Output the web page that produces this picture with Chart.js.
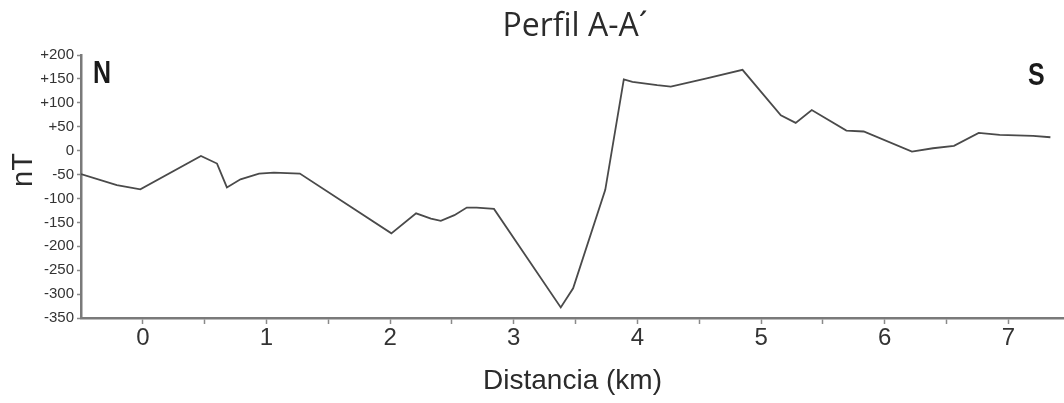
<!DOCTYPE html>
<html>
<head>
<meta charset="utf-8">
<title>Perfil A-A´</title>
<script src="https://cdn.jsdelivr.net/npm/chart.js@4"></script>
<style>
    body { margin: 0; background: #ffffff; }
    #wrap { width: 1064px; height: 403px; }
</style>
</head>
<body>
<div id="wrap"><canvas id="profileChart" width="1064" height="403"></canvas></div>
<script>
// Profile data
const distanceKm = [-0.5, -0.21, -0.02, 0.47, 0.60, 0.68, 0.79, 0.94, 1.06, 1.27, 2.01, 2.21, 2.33, 2.41, 2.52, 2.62, 2.70, 2.84, 3.38, 3.48, 3.74, 3.89, 3.96, 4.16, 4.27, 4.56, 4.85, 5.16, 5.28, 5.41, 5.69, 5.83, 6.22, 6.39, 6.56, 6.76, 6.93, 7.20, 7.34];
const anomalyNT = [-49, -72, -81, -11, -27, -77, -60, -48, -46, -48, -173, -131, -142, -147, -135, -119, -119, -122, -328, -288, -82, 149, 144, 137, 134, 151, 169, 74, 58, 85, 42, 40, -2, 5, 10, 37, 33, 31, 28];

// Axis ticks
const xTicks = [0, 0.5, 1, 1.5, 2, 2.5, 3, 3.5, 4, 4.5, 5, 5.5, 6, 6.5, 7];
const yTicks = [200, 150, 100, 50, 0, -50, -100, -150, -200, -250, -300, -350];

const points = distanceKm.map((d, i) => ({ x: d, y: anomalyNT[i] }));

// Title and side labels
const labelsPlugin = {
    id: 'profileLabels',
    afterDraw(chart) {
        const ctx = chart.ctx;
        ctx.save();
        ctx.fillStyle = '#2b2b2b';
        ctx.font = '32px "Open Sans", sans-serif';
        ctx.textAlign = 'center';
        ctx.textBaseline = 'alphabetic';
        ctx.fillText('Perfil A-A´', 575, 36);

        // N and S markers
        ctx.fillStyle = '#1a1a1a';
        ctx.font = 'bold 32px "Liberation Sans", Arial, sans-serif';
        ctx.textAlign = 'left';
        ctx.save();
        ctx.translate(93, 83);
        ctx.scale(0.78, 1);
        ctx.fillText('N', 0, 0);
        ctx.restore();
        ctx.save();
        ctx.translate(1028, 85);
        ctx.scale(0.78, 1);
        ctx.fillText('S', 0, 0);
        ctx.restore();

        // y axis title
        ctx.fillStyle = '#2b2b2b';
        ctx.font = '29px "Liberation Sans", Arial, sans-serif';
        ctx.translate(24, 170);
        ctx.rotate(-Math.PI / 2);
        ctx.textAlign = 'center';
        ctx.textBaseline = 'middle';
        ctx.fillText('nT', 0, 0);
        ctx.restore();
    }
};

new Chart(document.getElementById('profileChart'), {
    type: 'line',
    data: {
        datasets: [{
            data: points,
            borderColor: '#4a4a4a',
            borderWidth: 1.8,
            pointRadius: 0,
            tension: 0,
            fill: false
        }]
    },
    options: {
        responsive: false,
        animation: false,
        devicePixelRatio: 1,
        layout: { padding: { top: 55, left: 0, right: 0, bottom: 0 } },
        plugins: {
            legend: { display: false },
            tooltip: { enabled: false }
        },
        scales: {
            x: {
                type: 'linear',
                min: -0.5,
                max: 7.45,
                afterBuildTicks(scale) {
                    scale.ticks = xTicks.map(v => ({ value: v }));
                },
                afterFit(scale) {
                    scale.height = 85;
                },
                border: { color: '#7a7a7a', width: 2.5 },
                grid: {
                    drawOnChartArea: false,
                    tickLength: 6,
                    tickColor: '#8a8a8a',
                    tickWidth: 1.5
                },
                ticks: {
                    padding: 0,
                    maxRotation: 0,
                    autoSkip: false,
                    color: '#333333',
                    font: { family: '"Liberation Sans", Arial, sans-serif', size: 24 },
                    callback: v => (Number.isInteger(v) ? String(v) : '')
                },
                title: {
                    display: true,
                    text: 'Distancia (km)',
                    color: '#2b2b2b',
                    font: { family: '"Liberation Sans", Arial, sans-serif', size: 28 },
                    padding: { top: 0, bottom: 5 }
                }
            },
            y: {
                min: -350,
                max: 200,
                afterBuildTicks(scale) {
                    scale.ticks = yTicks.map(v => ({ value: v }));
                },
                afterFit(scale) {
                    scale.width = 81;
                },
                border: { color: '#7a7a7a', width: 2.5 },
                grid: {
                    drawOnChartArea: false,
                    tickLength: 4,
                    tickColor: '#8a8a8a',
                    tickWidth: 1.5
                },
                ticks: {
                    padding: 3,
                    autoSkip: false,
                    color: '#333333',
                    font: { family: '"Liberation Sans", Arial, sans-serif', size: 15 },
                    callback: v => (v > 0 ? '+' + v : String(v))
                }
            }
        }
    },
    plugins: [labelsPlugin]
});
</script>
</body>
</html>
